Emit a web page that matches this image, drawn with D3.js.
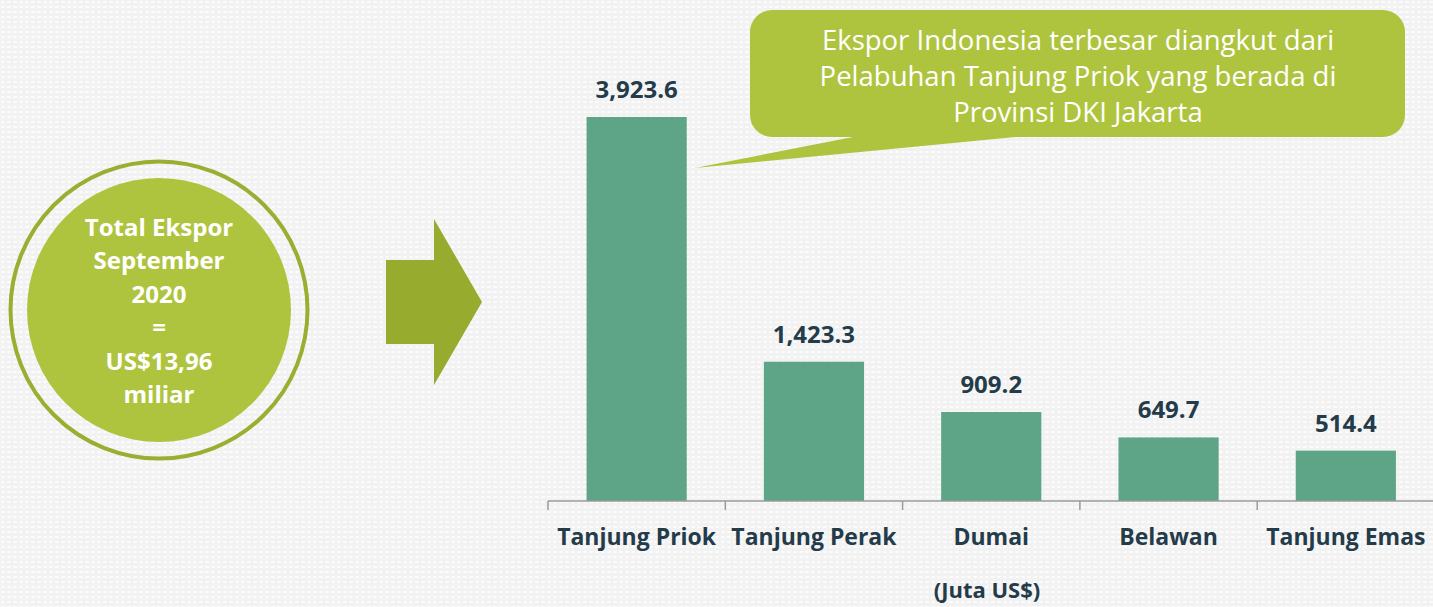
<!DOCTYPE html>
<html><head><meta charset="utf-8">
<script src="https://cdn.jsdelivr.net/npm/d3@7"></script>
<style>html,body{margin:0;padding:0;background:#f3f3f3;}svg{display:block;}</style>
</head><body>
<svg id="chart" width="1433" height="607"></svg>
<script>
const categories = ["Tanjung Priok", "Tanjung Perak", "Dumai", "Belawan", "Tanjung Emas"];
const values = [3923.6, 1423.3, 909.2, 649.7, 514.4];
const valueLabels = ["3,923.6", "1,423.3", "909.2", "649.7", "514.4"];
const circleLines = ["Total Ekspor", "September", "2020", "=", "US$13,96", "miliar"];
const calloutLines = ["Ekspor Indonesia terbesar diangkut dari", "Pelabuhan Tanjung Priok yang berada di", "Provinsi DKI Jakarta"];
const unitLabel = "(Juta US$)";

const svg = d3.select("#chart");
const W = 1433, H = 607;
const font = "'Open Sans', Lato, sans-serif";

// background pattern
const defs = svg.append("defs");
const pat = defs.append("pattern").attr("id","dots").attr("width",6).attr("height",5).attr("patternUnits","userSpaceOnUse");
pat.append("rect").attr("width",6).attr("height",5).attr("fill","#f2f2f2");
pat.append("rect").attr("x",1).attr("y",1).attr("width",4).attr("height",2).attr("rx",1).attr("fill","#fcfcfc");
svg.append("rect").attr("width",W).attr("height",H).attr("fill","url(#dots)");

// scales
const x = d3.scaleBand().domain(categories).range([548, 1434.5]).paddingInner(0.435).paddingOuter(0.2175);
const y = d3.scaleLinear().domain([0, 3923.6]).range([501, 117]);

// bars
svg.append("g").selectAll("rect").data(categories).join("rect")
  .attr("x", d => x(d)).attr("width", x.bandwidth())
  .attr("y", (d,i) => y(values[i])).attr("height", (d,i) => y(0) - y(values[i]))
  .attr("fill", "#5ea587");

// value labels
svg.append("g").selectAll("text").data(categories).join("text")
  .attr("x", d => x(d) + x.bandwidth()/2)
  .attr("y", (d,i) => y(values[i]) - 19)
  .attr("text-anchor","middle")
  .attr("font-family", font).attr("font-weight","bold").attr("font-size", 24)
  .attr("fill","#243b4a")
  .text((d,i) => valueLabels[i]);

// axis
const xb = d3.scaleBand().domain(categories).range([548, 1434.5]);
const axis = svg.append("g").attr("transform","translate(0,501)")
  .call(d3.axisBottom(xb).tickSize(0).tickFormat(""));
axis.select(".domain").attr("stroke","#9a9a9a").attr("stroke-width",1.5).attr("d","M548,0H1433");
const tickPos = categories.map(c => xb(c));
axis.selectAll(".sep").data(tickPos).join("line").attr("class","sep")
  .attr("x1", d=>d).attr("x2", d=>d).attr("y1",0).attr("y2",9)
  .attr("stroke","#9a9a9a").attr("stroke-width",1.5);

// category labels
svg.append("g").selectAll("text").data(categories).join("text")
  .attr("x", d => x(d) + x.bandwidth()/2)
  .attr("y", 545)
  .attr("text-anchor","middle")
  .attr("font-family", font).attr("font-weight","bold").attr("font-size", 23)
  .attr("fill","#243b4a")
  .text(d => d);

svg.append("text").attr("x", 987).attr("y", 598).attr("text-anchor","middle")
  .attr("font-family", font).attr("font-weight","bold").attr("font-size", 22)
  .attr("fill","#243b4a").text(unitLabel);

// circle
svg.append("circle").attr("cx",159).attr("cy",310).attr("r",148.5)
  .attr("fill","none").attr("stroke","#9aae32").attr("stroke-width",4);
svg.append("circle").attr("cx",159).attr("cy",310).attr("r",132).attr("fill","#afc43e");
svg.append("g").selectAll("text").data(circleLines).join("text")
  .attr("x", 159).attr("y", (d,i) => 236 + i*33.4)
  .attr("text-anchor","middle")
  .attr("font-family", font).attr("font-weight","bold").attr("font-size", 24)
  .attr("fill","#ffffff").text(d => d);

// arrow
svg.append("path")
  .attr("d","M386,260H434V219L482,302L434,385V344H386Z")
  .attr("fill","#97ab2f");

// callout
svg.append("path")
  .attr("d","M858,136L695,168L1026,136Z").attr("fill","#afc43e");
svg.append("rect").attr("x",750).attr("y",10).attr("width",655).attr("height",127).attr("rx",22)
  .attr("fill","#afc43e");
svg.append("g").selectAll("text").data(calloutLines).join("text")
  .attr("x", 1078).attr("y", (d,i) => 50 + i*36)
  .attr("text-anchor","middle")
  .attr("font-family", font).attr("font-size", 27.5)
  .attr("fill","#ffffff").text(d => d);
</script>
</body></html>
